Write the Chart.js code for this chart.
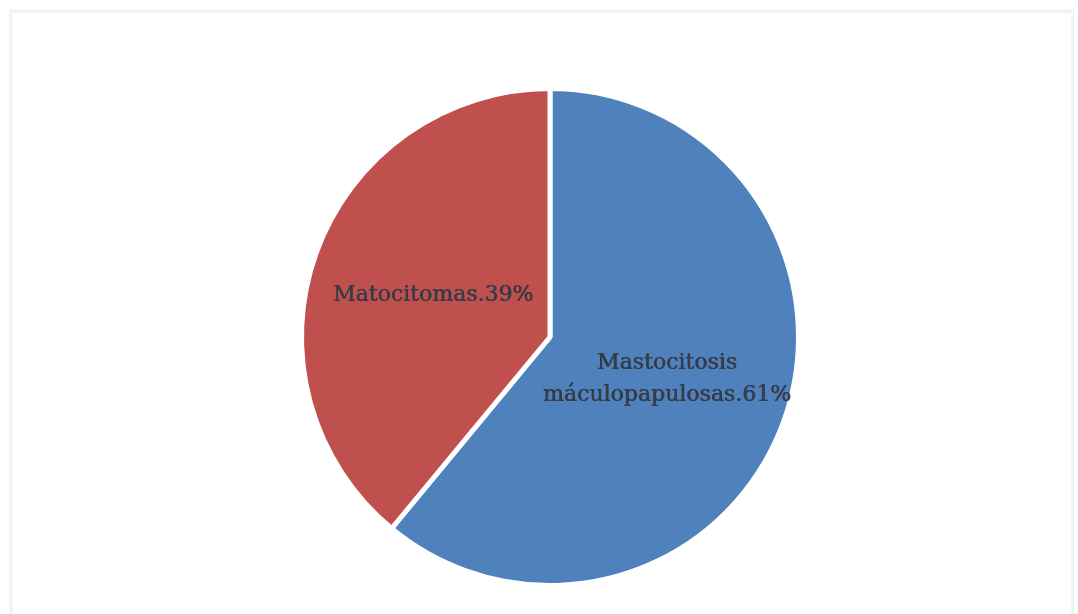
<!DOCTYPE html>
<html>
<head>
<meta charset="utf-8">
<script src="https://cdn.jsdelivr.net/npm/chart.js@4/dist/chart.umd.min.js"></script>
<style>
  html, body { margin: 0; padding: 0; background: #ffffff; }
  #wrap { position: relative; width: 1078px; height: 614px; }
  #frame { position: absolute; left: 9px; top: 9px; right: 4px; bottom: -10px; border: 4px solid #f4f4f4; border-right-width: 3px; pointer-events: none; }
  canvas { position: absolute; left: 0; top: 0; }
</style>
</head>
<body>
<div id="wrap">
  <div id="frame"></div>
  <canvas id="c" width="1078" height="614"></canvas>
</div>
<script>
const categories = ["Mastocitosis máculopapulosas", "Matocitomas"];
const labelLines = [["Mastocitosis", "máculopapulosas.61%"], ["Matocitomas.39%"]];
const values = [61, 39];
const colors = ["#4F81BD", "#C0504D"];

const sliceLabels = {
  id: "sliceLabels",
  afterDatasetsDraw(chart) {
    const ctx = chart.ctx;
    const meta = chart.getDatasetMeta(0);
    ctx.save();
    ctx.font = "22px 'DejaVu Serif'";
    ctx.fillStyle = "#363b47";
    ctx.textAlign = "center";
    ctx.textBaseline = "middle";
    ctx.filter = "blur(0.5px)";
    meta.data.forEach((arc, i) => {
      const p = arc.tooltipPosition();
      const lines = labelLines[i];
      const lh = 32;
      const y0 = p.y - (lines.length - 1) * lh / 2;
      lines.forEach((t, j) => {
        ctx.fillText(t, p.x, y0 + j * lh);
        ctx.fillText(t, p.x + 0.6, y0 + j * lh);
      });
    });
    ctx.restore();
  }
};

new Chart(document.getElementById("c"), {
  type: "pie",
  data: {
    labels: categories,
    datasets: [{
      data: values,
      backgroundColor: colors,
      borderColor: "#ffffff",
      borderWidth: 5
    }]
  },
  options: {
    responsive: false,
    animation: false,
    layout: { padding: { top: 86, bottom: 26, left: 299, right: 277 } },
    plugins: { legend: { display: false }, tooltip: { enabled: false } }
  },
  plugins: [sliceLabels]
});
</script>
</body>
</html>
